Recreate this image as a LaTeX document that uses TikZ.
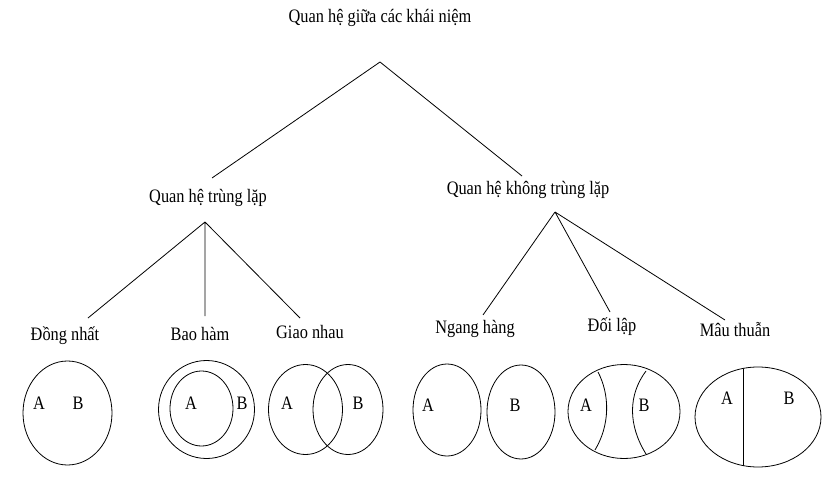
\documentclass[tikz,border=0pt]{standalone}
\usepackage{fontspec}
\setmainfont{Liberation Serif}
\newcommand{\sq}[1]{\scalebox{0.86}[1]{\fontsize{19}{21}\selectfont #1}}
\begin{document}
\begin{tikzpicture}[x=1pt,y=-1pt,
  lbl/.style={inner sep=0pt},
  ab/.style={inner sep=0pt},
  ln/.style={line width=0.8pt}]
\useasboundingbox (0,0) rectangle (835,484);
\node[lbl] (root) at (380,18) {\sq{Quan hệ giữa các khái niệm}};
\coordinate (top) at (380,62);
\node[lbl] (l) at (208,198) {\sq{Quan hệ trùng lặp}};
\node[lbl] (r) at (528,190) {\sq{Quan hệ không trùng lặp}};
\coordinate (lt) at (212,178);
\coordinate (rt) at (522,176);
\coordinate (lb) at (205,222);
\coordinate (rb) at (555,212);
\draw[ln] (lt) -- (top) -- (rt);
\node[lbl] (d1) at (65,336) {\sq{Đồng nhất}};
\node[lbl] (d2) at (200,334) {\sq{Bao hàm}};
\node[lbl] (d3) at (310,332) {\sq{Giao nhau}};
\node[lbl] (d4) at (475,329) {\sq{Ngang hàng}};
\node[lbl] (d5) at (612,327) {\sq{Đối lập}};
\node[lbl] (d6) at (735,330) {\sq{Mâu thuẫn}};
\coordinate (e1) at (88,318); \coordinate (e2) at (205,316); \coordinate (e3) at (300,318);
\coordinate (e4) at (483,315); \coordinate (e5) at (610,312); \coordinate (e6) at (725,320);
\draw[ln] (lb) -- (e1) (lb) -- (e2) (lb) -- (e3);
\draw[ln] (rb) -- (e4) (rb) -- (e5) (rb) -- (e6);
\draw[ln] (67.5,413) ellipse [x radius=44.5, y radius=52];
\node[ab] (a1) at (39,403) {\sq{A}}; \node[ab] (b1) at (78,403) {\sq{B}};
\draw[ln] (206.5,409.5) ellipse [x radius=48, y radius=49];
\draw[ln] (201.5,408.5) ellipse [x radius=31.5, y radius=37.5];
\node[ab] (a2) at (191,403) {\sq{A}}; \node[ab] (b2) at (242,403) {\sq{B}};
\draw[ln] (305.5,409.5) ellipse [x radius=37, y radius=45];
\draw[ln] (348,409.5) ellipse [x radius=35, y radius=45];
\node[ab] (a3) at (287,403) {\sq{A}}; \node[ab] (b3) at (358,403) {\sq{B}};
\draw[ln] (447,410) ellipse [x radius=34, y radius=46];
\draw[ln] (521,412) ellipse [x radius=34, y radius=47];
\node[ab] (a4) at (428,405) {\sq{A}}; \node[ab] (b4) at (515,405) {\sq{B}};
\draw[ln] (624,411.5) ellipse [x radius=56, y radius=47];
\draw[ln] (598,372) .. controls (610,395) and (610,425) .. (595,450);
\draw[ln] (646,371) .. controls (628,395) and (628,425) .. (646,454);
\node[ab] (a5) at (586,405) {\sq{A}}; \node[ab] (b5) at (644,405) {\sq{B}};
\draw[ln] (758,417) ellipse [x radius=63, y radius=50];
\draw[ln] (743,368.5) -- (743,465.5);
\node[ab] (a6) at (727,398) {\sq{A}}; \node[ab] (b6) at (789,398) {\sq{B}};
\end{tikzpicture}
\end{document}
